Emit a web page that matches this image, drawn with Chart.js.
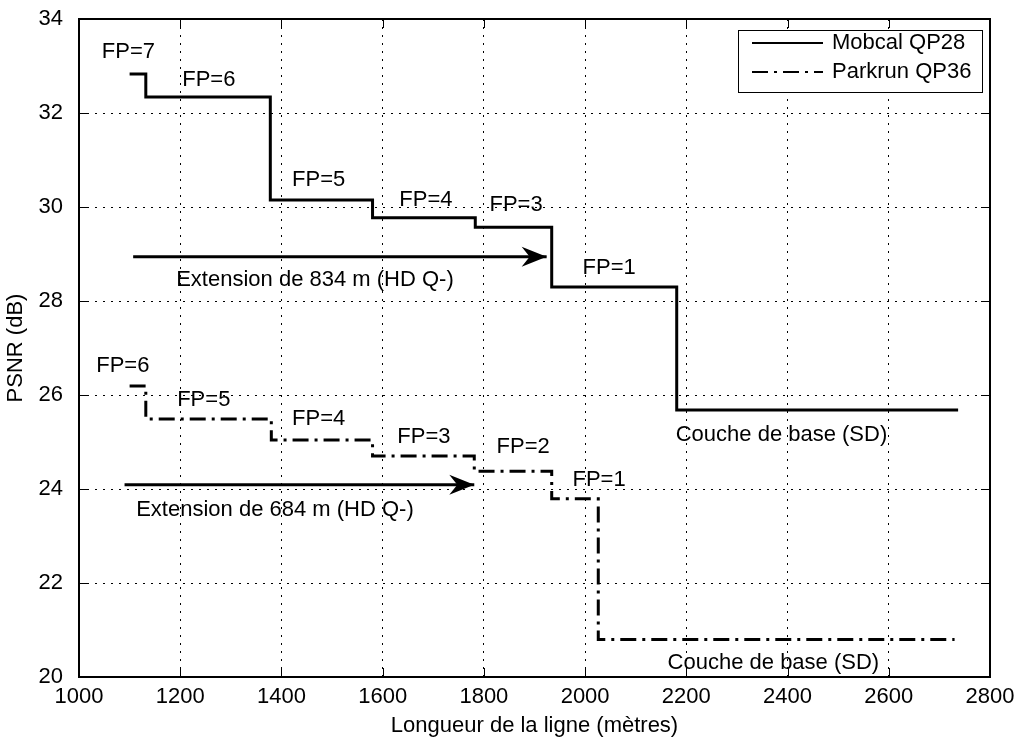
<!DOCTYPE html>
<html>
<head>
<meta charset="utf-8">
<script src="https://cdn.jsdelivr.net/npm/chart.js@4/dist/chart.umd.min.js"></script>
<style>
  html, body { margin: 0; padding: 0; background: #fff; }
  #wrap { width: 1016px; height: 740px; }
</style>
</head>
<body>
<div id="wrap"><canvas id="psnrChart"></canvas></div>
<script>
// step curves (x = line length in metres, y = PSNR in dB)
const mobcalX = [1100, 1132, 1378, 1580, 1783, 1934, 2181, 2737];
const mobcalY = [32.83, 32.34, 30.15, 29.77, 29.57, 28.30, 25.68, 25.68];
const parkrunX = [1100, 1132, 1380, 1580, 1781, 1934, 2026, 2730];
const parkrunY = [26.19, 25.49, 25.04, 24.70, 24.38, 23.79, 20.80, 20.80];

// extension arrows
const arrowMobcalX = [1107, 1924];
const arrowMobcalY = [28.94, 28.94];
const arrowParkrunX = [1090, 1781];
const arrowParkrunY = [24.09, 24.09];

// text labels placed in data coordinates
const noteText = ['FP=7', 'FP=6', 'FP=5', 'FP=4', 'FP=3', 'FP=1',
  'Extension de 834 m (HD Q-)', 'Couche de base (SD)',
  'FP=6', 'FP=5', 'FP=4', 'FP=3', 'FP=2', 'FP=1',
  'Extension de 684 m (HD Q-)', 'Couche de base (SD)'];
const noteX = [1045, 1204, 1421, 1633, 1811, 1995, 1192, 2179,
  1034, 1194, 1421, 1629, 1825, 1975, 1113, 2163];
const noteY = [33.30, 32.70, 30.57, 30.15, 30.04, 28.70, 28.45, 25.15,
  26.62, 25.89, 25.50, 25.10, 24.90, 24.19, 23.55, 20.30];

const xMin = 1000, xMax = 2800, xStep = 200;
const yMin = 20, yMax = 34, yStep = 2;

const FONT = { family: '"Liberation Sans", Arial, sans-serif', size: 22 };
const pts = (xs, ys) => xs.map((x, i) => ({ x: x, y: ys[i] }));

const matlabBox = {
  id: 'matlabBox',
  afterDatasetsDraw(chart) {
    const { ctx, chartArea: a, scales: { x, y } } = chart;
    ctx.save();

    // arrow heads at the end of the arrow datasets
    chart.data.datasets.forEach(ds => {
      if (!ds.arrow) return;
      const last = ds.data[ds.data.length - 1];
      const px = x.getPixelForValue(last.x), py = y.getPixelForValue(last.y);
      ctx.fillStyle = '#000';
      ctx.beginPath();
      ctx.moveTo(px, py);
      ctx.lineTo(px - 25, py - 10);
      ctx.lineTo(px - 17, py);
      ctx.lineTo(px - 25, py + 10);
      ctx.closePath();
      ctx.fill();
    });

    // notes
    ctx.fillStyle = '#000';
    ctx.font = FONT.size + 'px ' + FONT.family;
    ctx.textAlign = 'left';
    ctx.textBaseline = 'middle';
    noteText.forEach((t, i) => {
      ctx.fillText(t, x.getPixelForValue(noteX[i]), y.getPixelForValue(noteY[i]));
    });

    // axes box with inward ticks
    ctx.strokeStyle = '#000';
    ctx.lineWidth = 2;
    ctx.setLineDash([]);
    ctx.strokeRect(a.left, a.top, a.right - a.left, a.bottom - a.top);
    ctx.lineWidth = 1;
    ctx.beginPath();
    x.ticks.forEach(t => {
      const px = Math.round(x.getPixelForValue(t.value)) + 0.5;
      ctx.moveTo(px, a.bottom); ctx.lineTo(px, a.bottom - 9);
      ctx.moveTo(px, a.top); ctx.lineTo(px, a.top + 9);
    });
    y.ticks.forEach(t => {
      const py = Math.round(y.getPixelForValue(t.value)) + 0.5;
      ctx.moveTo(a.left, py); ctx.lineTo(a.left + 9, py);
      ctx.moveTo(a.right, py); ctx.lineTo(a.right - 9, py);
    });
    ctx.stroke();

    // legend box
    const lx = 738, ly = 30, lw = 244, lh = 62;
    ctx.fillStyle = '#fff';
    ctx.fillRect(lx, ly, lw, lh);
    ctx.lineWidth = 1;
    ctx.strokeRect(lx + 0.5, ly + 0.5, lw, lh);
    const items = chart.data.datasets.filter(d => !d.arrow);
    items.forEach((ds, i) => {
      const cy = ly + 13 + i * 29;
      ctx.beginPath();
      ctx.lineWidth = 2;
      ctx.setLineDash(ds.borderDash || []);
      ctx.moveTo(lx + 14, cy);
      ctx.lineTo(lx + 85, cy);
      ctx.stroke();
      ctx.setLineDash([]);
      ctx.fillStyle = '#000';
      ctx.fillText(ds.label, lx + 94, cy);
    });
    ctx.restore();
  }
};

new Chart(document.getElementById('psnrChart'), {
  type: 'line',
  data: {
    datasets: [
      {
        label: 'Mobcal QP28',
        data: pts(mobcalX, mobcalY),
        borderColor: '#000',
        borderWidth: 3,
        stepped: true,
        pointRadius: 0
      },
      {
        label: 'Parkrun QP36',
        data: pts(parkrunX, parkrunY),
        borderColor: '#000',
        borderWidth: 3,
        borderDash: [16, 6, 3, 6],
        stepped: true,
        pointRadius: 0
      },
      {
        label: 'arrow 834',
        arrow: true,
        data: pts(arrowMobcalX, arrowMobcalY),
        borderColor: '#000',
        borderWidth: 3,
        pointRadius: 0
      },
      {
        label: 'arrow 684',
        arrow: true,
        data: pts(arrowParkrunX, arrowParkrunY),
        borderColor: '#000',
        borderWidth: 3,
        pointRadius: 0
      }
    ]
  },
  options: {
    responsive: true,
    maintainAspectRatio: false,
    animation: false,
    layout: { padding: { top: 19, right: 26, bottom: 0, left: 0 } },
    plugins: {
      legend: { display: false },
      tooltip: { enabled: false }
    },
    scales: {
      x: {
        type: 'linear',
        min: xMin,
        max: xMax,
        ticks: { stepSize: xStep, padding: 7, color: '#000', font: FONT, maxRotation: 0, autoSkip: false,
          callback: v => String(v) },
        grid: { color: '#000', lineWidth: 1, drawTicks: false },
        border: { display: false, dash: [2, 6] },
        title: { display: true, text: 'Longueur de la ligne (mètres)', color: '#000', font: FONT, padding: { top: 4, bottom: 1 } },
        afterFit: s => { s.height = 63; s.paddingLeft = 0; s.paddingRight = 0; }
      },
      y: {
        min: yMin,
        max: yMax,
        ticks: { stepSize: yStep, padding: 16, color: '#000', font: FONT },
        grid: { color: '#000', lineWidth: 1, drawTicks: false },
        border: { display: false, dash: [2, 6] },
        title: { display: true, text: 'PSNR (dB)', color: '#000', font: FONT, padding: { top: 3, bottom: 0 } },
        afterFit: s => { s.width = 79; s.paddingTop = 0; s.paddingBottom = 0; }
      }
    }
  },
  plugins: [matlabBox]
});
</script>
</body>
</html>
